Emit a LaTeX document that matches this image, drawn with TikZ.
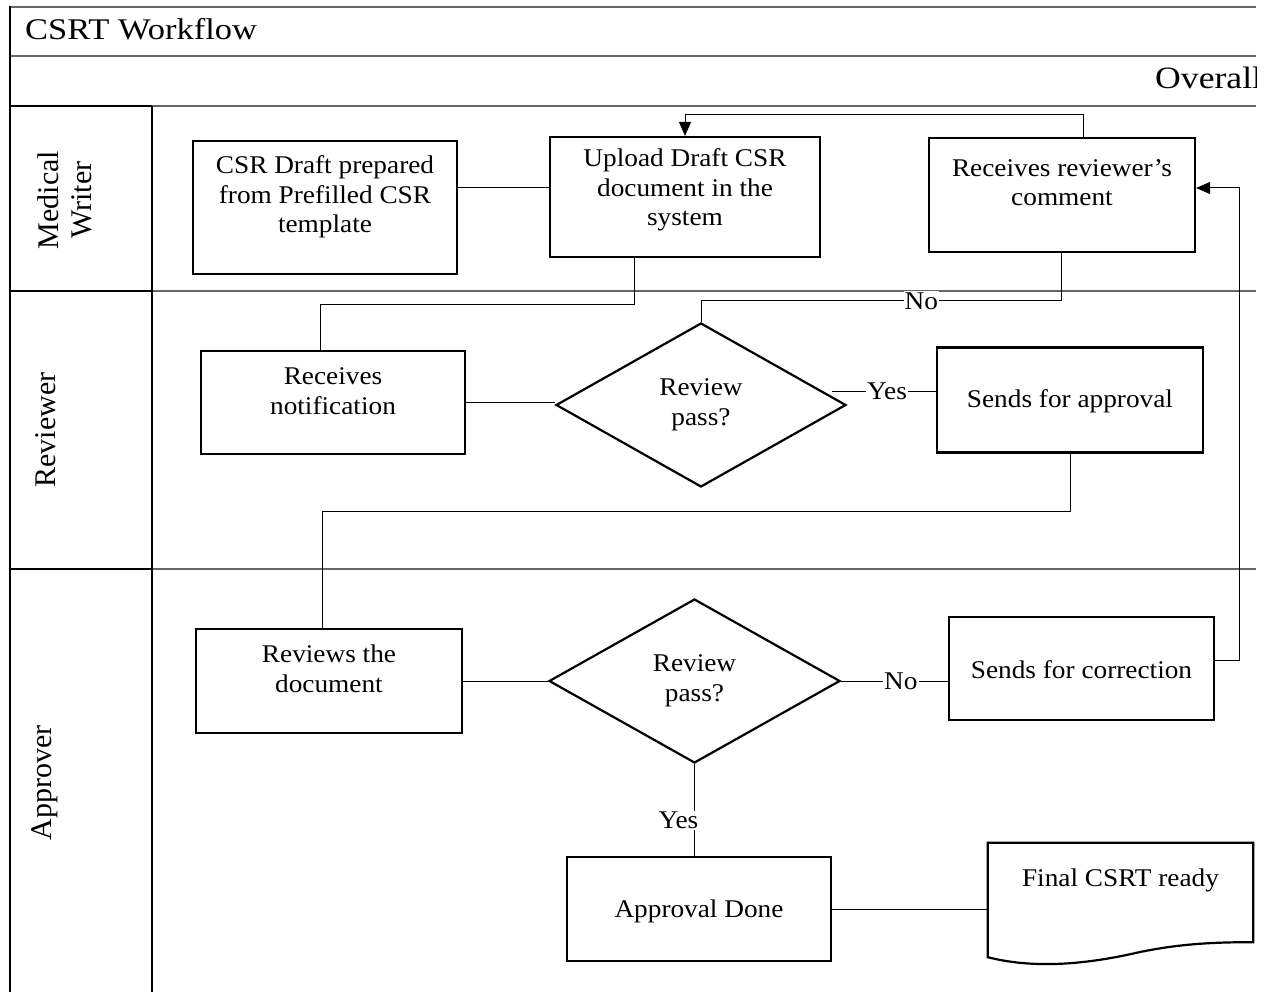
\documentclass[tikz,border=0pt]{standalone}
\usepackage{fontspec}
\setmainfont{Liberation Serif}[FakeStretch=1.07]
\newfontfamily\titlefont{Liberation Serif}[FakeStretch=1.15]
\newfontfamily\lanefont{Liberation Serif}
\usetikzlibrary{shapes.geometric,arrows.meta,calc}
\begin{document}
\begin{tikzpicture}[x=1pt,y=-1pt,
  box/.style={draw, line width=2.2pt, rectangle, inner sep=0pt},
  btxt/.style={font=\fontsize{25.5pt}{29.5pt}\selectfont, align=center, inner sep=0pt},
  dia/.style={draw, diamond, line width=2.2pt, inner sep=0pt, align=center, font=\fontsize{25.5pt}{29.5pt}\selectfont},
  conn/.style={line width=1pt, draw=black},
  arr/.style={-{Triangle[length=14pt,width=12pt]}},
  lbl/.style={fill=white, inner sep=1pt, font=\fontsize{25.5pt}{29.5pt}\selectfont},
  lane/.style={line width=1.3pt, draw=black!60},
  frame/.style={line width=2.2pt, draw=black},
  lanetxt/.style={font=\lanefont\fontsize{30pt}{33pt}\selectfont, rotate=90, align=center}
]
\useasboundingbox (0,0) rectangle (1266,992);

% ---- frame and lanes ----
\draw[lane] (10,7) -- (1256,7);
\draw[lane] (10,56) -- (1256,56);
\draw[lane] (152,106) -- (1256,106);
\draw[lane] (152,291) -- (1256,291);
\draw[lane] (152,569) -- (1256,569);
\draw[frame] (10,6) -- (10,992);
\draw[frame] (10,106) -- (152,106);
\draw[frame] (10,291) -- (152,291);
\draw[frame] (10,569) -- (152,569);
\draw[frame] (152,106) -- (152,992);

\node[anchor=base west, inner sep=0pt, font=\titlefont\fontsize{30pt}{34pt}\selectfont] (title) at (25,40) {CSRT Workflow};
\begin{scope}
  \clip (10,57) rectangle (1256,105);
  \node[anchor=base west, inner sep=0pt, font=\titlefont\fontsize{31pt}{36pt}\selectfont] (overall) at (1155,89) {Overall};
\end{scope}

\node[lanetxt] (lmw) at (65,200) {Medical\\Writer};
\node[lanetxt] (lrv) at (46,430) {Reviewer};
\node[lanetxt] (lap) at (45,783) {Approver};

% ---- boxes ----
\node[box, minimum width=264pt, minimum height=133pt,
  label={[btxt, yshift=10.5pt]center:{CSR Draft prepared\\from Prefilled CSR\\template}}] (draft) at (325,207.5) {};
\node[box, minimum width=270pt, minimum height=120pt,
  label={[btxt, yshift=7pt]center:{Upload Draft CSR\\document in the\\system}}] (upload) at (685,197) {};
\node[box, minimum width=266pt, minimum height=114pt,
  label={[btxt, yshift=12.5pt]center:{Receives reviewer’s\\comment}}] (comment) at (1062,195) {};
\node[box, minimum width=264pt, minimum height=103pt,
  label={[btxt, yshift=11.5pt]center:{Receives\\notification}}] (notif) at (333,402.5) {};
\node[dia, minimum width=290pt, minimum height=164pt] (dia1) at (701,405) {Review\\pass?};
\node[box, minimum width=266pt, minimum height=105pt,
  label={[btxt, yshift=-1pt]center:{Sends for approval}}] (apprv) at (1070,400) {};
\node[box, minimum width=266pt, minimum height=104pt,
  label={[btxt, yshift=12pt]center:{Reviews the\\document}}] (reviews) at (329,681) {};
\node[dia, minimum width=291pt, minimum height=164pt] (dia2) at (694.5,681) {Review\\pass?};
\node[box, minimum width=265pt, minimum height=103pt,
  label={[btxt, yshift=-1.5pt]center:{Sends for correction}}] (corr) at (1081.5,668.5) {};
\node[box, minimum width=264pt, minimum height=104pt,
  label={[btxt, yshift=-2pt]center:{Approval Done}}] (done) at (699,909) {};
\node[inner sep=0pt, minimum width=265pt, minimum height=114pt,
  label={[btxt, yshift=20pt]center:{Final CSRT ready}}] (final) at (1120.5,900) {};
\draw[line width=2.2pt] (final.north west) -- (final.north east) -- ([yshift=15pt]final.south east)
  .. controls (1200,942) and (1170,946) .. (1140,952)
  .. controls (1080,966) and (1030,968) .. (final.south west) -- cycle;

% ---- connectors ----
\draw[conn] ([yshift=19.5pt]draft.east) -- ([yshift=19.5pt]draft.east -| upload.west);
\draw[conn] ([xshift=-51pt]upload.south) -- ++(0,46) -| ([xshift=-13pt]notif.north);
\draw[conn] (notif.east) -- (notif.east -| dia1.west);
\draw[conn] ([yshift=9pt]apprv.west) -- node[lbl, pos=0.47] {Yes} ++(-104,0);
\draw[conn] (dia1.north) -- ++(0,-21) -| node[lbl, pos=0.306] {No} ([xshift=-1pt]comment.south);
\draw[conn, arr] ([xshift=21pt]comment.north) -- ++(0,-22) -| (upload.north);
\draw[conn] (apprv.south) -- ++(0,58) -| ([xshift=-7pt]reviews.north);
\draw[conn] (reviews.east) -- (dia2.west);
\draw[conn] (dia2.east) -- node[lbl, pos=0.56] {No} (dia2.east -| corr.west);
\draw[conn, arr] ([yshift=8.5pt]corr.east) -- ++(24,0) |- ([yshift=7pt]comment.east);
\draw[conn] (dia2.south) -- node[lbl, pos=0.61, xshift=-16pt] {Yes} (dia2.south |- done.north);
\draw[conn] (done.east) -- (done.east -| final.west);
\end{tikzpicture}
\end{document}
